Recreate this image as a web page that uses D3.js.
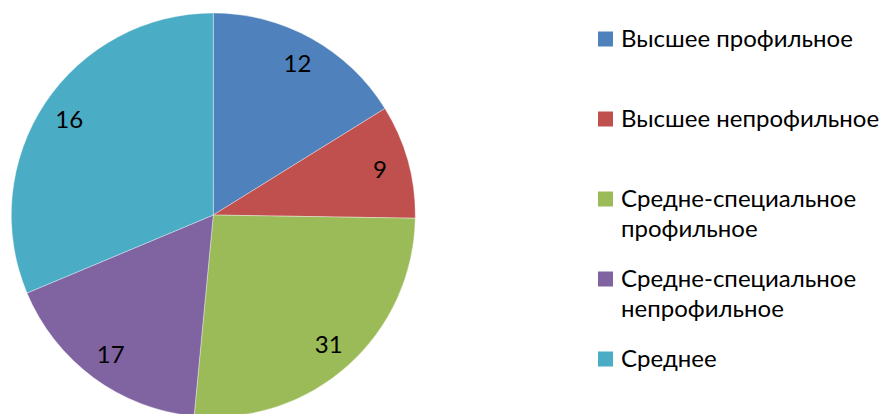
<!DOCTYPE html>
<html>
<head>
<meta charset="utf-8">
<script src="https://cdn.jsdelivr.net/npm/d3@7"></script>
<style>
  body { margin: 0; background: #fff; }
  svg { display: block; }
  text { font-family: Lato, "Open Sans", sans-serif; fill: #000; }
</style>
</head>
<body>
<div id="chart"></div>
<script>
// categories shown in the legend
var categories = [
    "Высшее профильное",
    "Высшее непрофильное",
    "Средне-специальное профильное",
    "Средне-специальное непрофильное",
    "Среднее"
];
// slice sizes
var values = [16, 9, 26, 17, 31];
// numbers printed on the slices
var labels = ["12", "9", "31", "17", "16"];
var colors = ["#4F81BD", "#C0504D", "#9BBB59", "#8064A2", "#4BACC6"];

var width = 885, height = 414;
var cx = 213.3, cy = 215, radius = 202;

var svg = d3.select("#chart").append("svg")
    .attr("width", width)
    .attr("height", height);

/////////////// pie ///////////////
var pie = d3.pie().sort(null).value(function (d) { return d; });
var arcs = pie(values);

var arc = d3.arc().innerRadius(0).outerRadius(radius);
var labelArc = d3.arc().innerRadius(173).outerRadius(173);

var g = svg.append("g").attr("transform", "translate(" + cx + "," + cy + ")");

g.selectAll("path")
    .data(arcs)
    .enter()
    .append("path")
    .attr("d", arc)
    .style("fill", function (d, i) { return colors[i]; })
    .style("stroke", "#fff")
    .style("stroke-width", 0.6)
    .style("stroke-opacity", 0.6);

g.selectAll("text.lbl")
    .data(arcs)
    .enter()
    .append("text")
    .attr("class", "lbl")
    .attr("transform", function (d) { return "translate(" + labelArc.centroid(d) + ")"; })
    .attr("text-anchor", "middle")
    .attr("dy", "0.36em")
    .style("font-size", "24px")
    .text(function (d, i) { return labels[i]; });

/////////////// legend ///////////////
var legendX = 598, legendTop = 39, rowStep = 80, lineStep = 30, maxW = 262;

var legend = svg.append("g");
categories.forEach(function (name, i) {
    var y = legendTop + i * rowStep;
    legend.append("rect")
        .attr("x", legendX)
        .attr("y", y - 7.5)
        .attr("width", 15)
        .attr("height", 15)
        .style("fill", colors[i]);

    var t = legend.append("text")
        .attr("x", legendX + 23)
        .attr("y", y + 8)
        .style("font-size", "24px");

    // wrap words into lines that fit the legend width
    var words = name.split(" ");
    var line = [];
    var tspan = t.append("tspan").attr("x", legendX + 23).attr("dy", 0);
    words.forEach(function (w) {
        line.push(w);
        tspan.text(line.join(" "));
        if (tspan.node().getComputedTextLength() > maxW && line.length > 1) {
            line.pop();
            tspan.text(line.join(" "));
            line = [w];
            tspan = t.append("tspan").attr("x", legendX + 23).attr("dy", lineStep).text(w);
        }
    });
});
</script>
</body>
</html>
